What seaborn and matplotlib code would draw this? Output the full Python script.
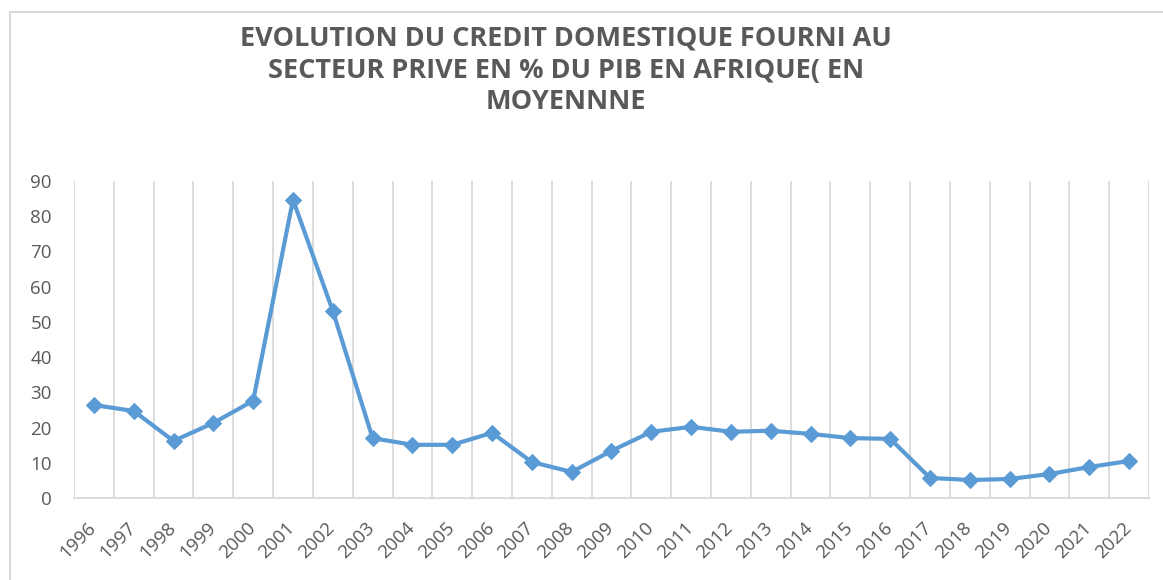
import seaborn as sns
import matplotlib.pyplot as plt
import matplotlib.transforms as mtransforms
import pandas as pd
from matplotlib.patches import Rectangle

years = [str(y) for y in range(1996, 2023)]
credit = [26.4, 24.7, 16.2, 21.3, 27.6, 84.7, 53.1, 17.0, 15.1, 15.1,
          18.5, 10.2, 7.4, 13.4, 18.8, 20.2, 18.8, 19.1, 18.2, 17.0,
          16.8, 5.7, 5.1, 5.4, 6.8, 8.8, 10.5]
title = ("EVOLUTION DU CREDIT DOMESTIQUE FOURNI AU\n"
         "SECTEUR PRIVE EN % DU PIB EN AFRIQUE( EN\n"
         "MOYENNNE")

df = pd.DataFrame({"annee": years, "credit": credit})

sns.set_style("white")
plt.rcParams['font.family'] = ['Open Sans', 'DejaVu Sans']

blue = "#5B9BD5"
grey_txt = "#595959"
grid_c = "#D9D9D9"

fig = plt.figure(figsize=(11.63, 5.80), dpi=100)
ax = fig.add_axes([74 / 1163, 82 / 580, (1149 - 74) / 1163, (498 - 181) / 580])

sns.lineplot(data=df, x="annee", y="credit", ax=ax, color=blue, linewidth=3,
             marker="D", markersize=8, markeredgecolor=blue, sort=False)

n = len(years)
ax.set_xlim(-0.5, n - 0.5)
ax.set_ylim(0, 90)
ax.set_yticks(range(0, 91, 10))
ax.set_xticks(range(n))
ax.set_xticklabels(years, rotation=45, ha="right", va="top", rotation_mode="anchor")
ax.set_xticks([k + 0.5 for k in range(-1, n)], minor=True)
ax.grid(False)
ax.grid(True, which="minor", axis="x", color=grid_c, linewidth=1.3)
ax.tick_params(axis="both", which="both", length=0, labelsize=13.5, labelcolor=grey_txt)
ax.tick_params(axis="y", pad=16)
ax.tick_params(axis="x", pad=15)
shift = mtransforms.ScaledTranslation(-7 / 100, 0, fig.dpi_scale_trans)
for lab in ax.get_xticklabels():
    lab.set_transform(lab.get_transform() + shift)
ax.set_xlabel("")
ax.set_ylabel("")
for side in ["top", "right", "left"]:
    ax.spines[side].set_visible(False)
ax.spines["bottom"].set_color(grid_c)
ax.spines["bottom"].set_linewidth(1.3)

fig.text(566 / 1163, 1 - 26 / 580, title, ha="center", va="top",
         fontsize=19.5, fontweight="bold", color=grey_txt, linespacing=1.28)

fig.patches.append(Rectangle((10 / 1163, -0.05), 1.1, 1 - 12 / 580 + 0.05,
                             transform=fig.transFigure, fill=False,
                             edgecolor=grid_c, linewidth=1.5))

fig.savefig("out.png", dpi=100)
